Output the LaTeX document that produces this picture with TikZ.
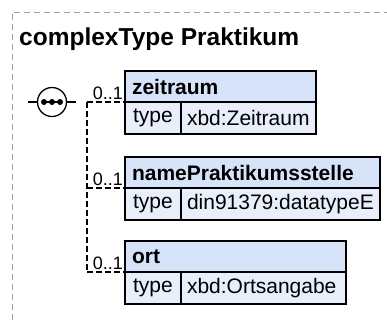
\documentclass[tikz,border=0pt]{standalone}
\usepackage{fontspec}
\setmainfont{Liberation Sans}
\definecolor{hdrfill}{HTML}{D6E3F8}
\definecolor{rowfill}{HTML}{E8EFFB}
\tikzset{
  frame/.style={draw=gray!75,line width=0.8pt,dash pattern=on 6pt off 4pt},
  hdrbox/.style={draw,fill=hdrfill,line width=1.4pt,outer sep=0pt,anchor=north west,minimum height=31,inner xsep=7pt,align=left,font=\fontsize{21}{21}\selectfont\bfseries},
  typebox/.style={draw,fill=rowfill,line width=1.4pt,outer sep=0pt,anchor=north west,minimum height=32,minimum width=56,inner xsep=7pt,font=\fontsize{21}{21}\selectfont},
  valbox/.style={draw,fill=rowfill,line width=1.4pt,outer sep=0pt,anchor=north west,minimum height=32,inner xsep=6pt,align=left,font=\fontsize{21}{21}\selectfont},
  conn/.style={line width=1.2pt,dash pattern=on 6pt off 3pt},
  mult/.style={inner sep=1.5pt,font=\fontsize{18}{18}\selectfont},
  seqcirc/.style={draw,circle,line width=1.3pt,minimum size=29,inner sep=0pt,fill=white}
}
\begin{document}
\begin{tikzpicture}[x=1pt,y=-1pt]
\useasboundingbox (0,0) rectangle (387,322);
\draw[frame] (12,330) -- (12,12) -- (395,12);
\node[anchor=base west,inner sep=0pt,font=\fontsize{24.5}{24.5}\selectfont\bfseries] (title) at (19,45) {complexType Praktikum};
% sequence
\coordinate (src) at (28,102);
\coordinate (seqout) at (76,102);
\coordinate (bus) at (87,102);
\node[seqcirc] (seq) at (52,102) {};
\draw[line width=1.2pt] (src) -- (seq.west);
\draw[line width=1.2pt] (seq.east) -- (seqout);
\draw[line width=1.2pt] ([xshift=-10pt]seq.center) -- ([xshift=10pt]seq.center);
\foreach \dx in {-8,0,8}{\fill ([xshift=\dx pt]seq.center) circle (3pt);}
% elements
\foreach \ename/\etype/\ew/\ey [count=\i] in {zeitraum/xbd:Zeitraum/191/71,namePraktikumsstelle/din91379:datatypeE/255/157,ort/xbd:Ortsangabe/221/241}{
\pgfmathsetmacro{\tw}{\ew-14}
\pgfmathsetmacro{\vw}{\ew-68}
\node[hdrbox,text width=\tw pt] (h\i) at (125,\ey) {\ename};
\node[typebox] (t\i) at (h\i.south west) {type};
\node[valbox,text width=\vw pt] (v\i) at (t\i.north east) {\etype};
\draw[conn] (t\i.north west -| bus) -- (t\i.north west) node[pos=1,above left,mult]{0..1};
}
\draw[conn] (bus) -- (bus |- t3.north west);
\end{tikzpicture}
\end{document}
